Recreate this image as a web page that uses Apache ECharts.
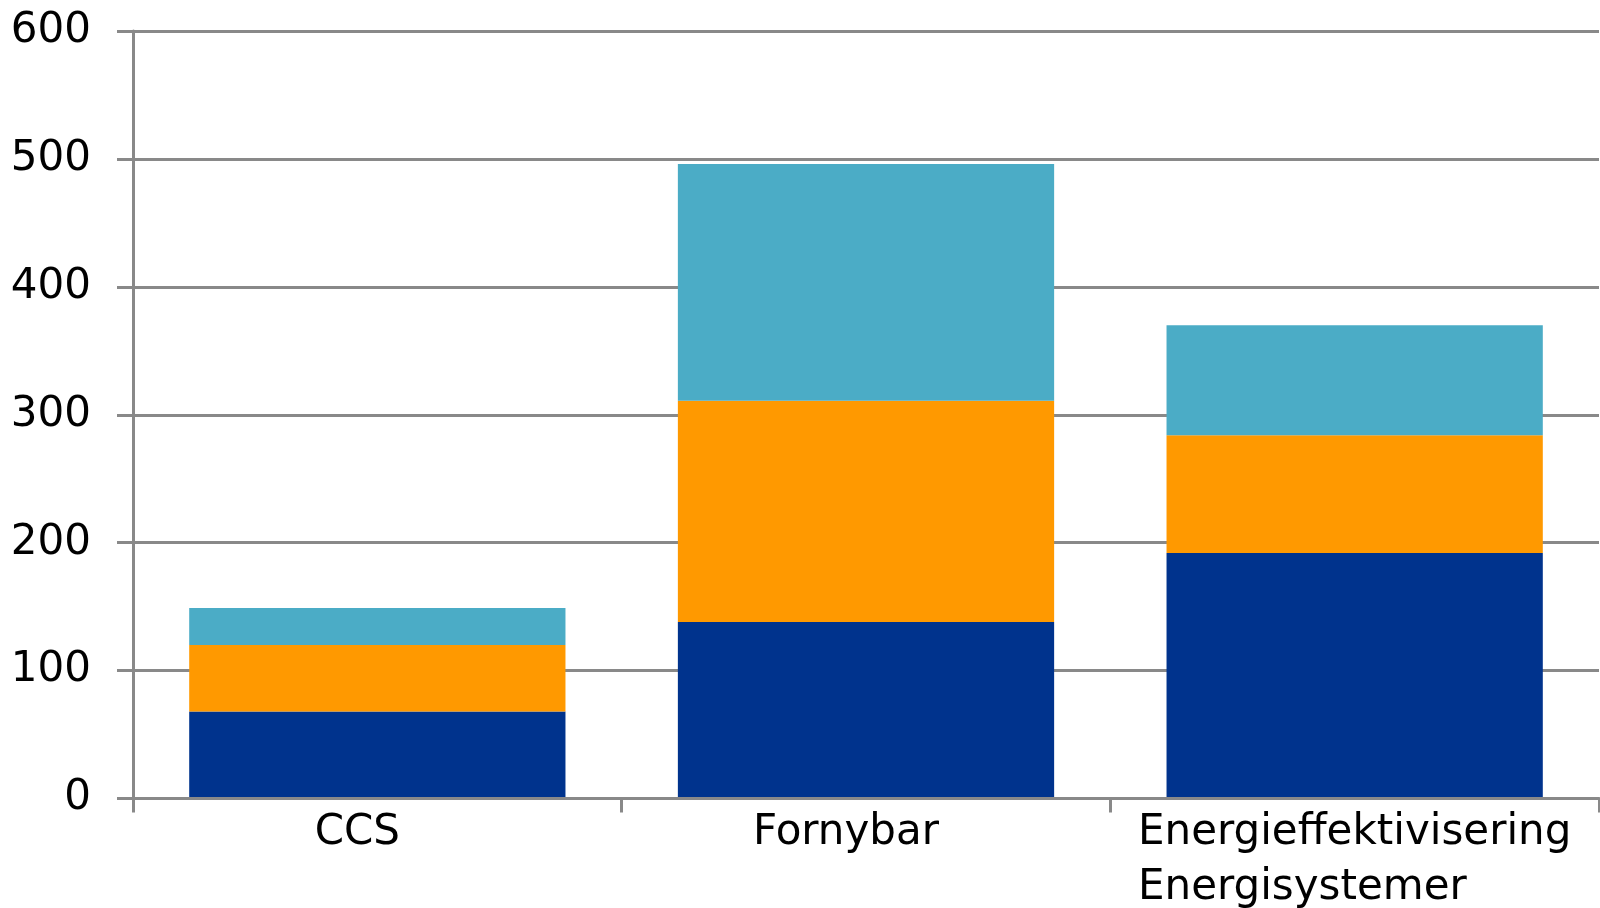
<!DOCTYPE html>
<html>
<head>
<meta charset="utf-8">
<script src="https://cdn.jsdelivr.net/npm/echarts@6/dist/echarts.min.js"></script>
<style>
  html, body { margin: 0; padding: 0; background: #ffffff; }
  #chart { width: 1600px; height: 908px; }
</style>
</head>
<body>
<div id="chart"></div>
<script>
const categories = ['CCS', 'Fornybar', 'Energieffektivisering\nEnergisystemer'];
const seriesNames = ['Serie 1', 'Serie 2', 'Serie 3'];
const bottomValues = [68, 138, 192];
const middleValues = [52, 173, 92];
const topValues = [29, 185, 86];
const yTicks = [0, 100, 200, 300, 400, 500, 600];

const colors = ['#00338D', '#FF9900', '#4BACC6'];
const gray = '#898989';
const font = 'DejaVu Sans';

const chart = echarts.init(document.getElementById('chart'), null, { renderer: 'canvas' });

const mkSeries = (name, data, color) => ({
  name: name,
  type: 'bar',
  stack: 'total',
  data: data,
  barWidth: '77%',
  itemStyle: { color: color },
  emphasis: { disabled: true },
  z: 2
});

chart.setOption({
  animation: false,
  backgroundColor: '#ffffff',
  grid: { left: 133, right: 1, top: 31, bottom: 109.5, containLabel: false, outerBoundsMode: 'none' },
  xAxis: {
    type: 'category',
    data: categories,
    z: 5,
    axisLine: { show: true, lineStyle: { color: gray, width: 3 } },
    axisTick: { show: true, length: 14, lineStyle: { color: gray, width: 3 } },
    splitLine: { show: false },
    axisLabel: {
      margin: 7,
      interval: 0,
      formatter: function (value, index) {
        const lines = value.split('\n');
        if (lines.length > 1) {
          return lines.map(l => '{a|' + l + '}').join('\n');
        }
        return '{b|' + value + '}';
      },
      rich: {
        a: { fontFamily: font, fontSize: 42, color: '#000', lineHeight: 55, align: 'left' },
        b: { fontFamily: font, fontSize: 42, color: '#000', lineHeight: 55, padding: [0, 40, 0, 0] }
      }
    }
  },
  yAxis: {
    type: 'value',
    min: yTicks[0],
    max: yTicks[yTicks.length - 1],
    interval: 100,
    axisLine: { show: true, lineStyle: { color: gray, width: 3 } },
    axisTick: { show: true, length: 16, lineStyle: { color: gray, width: 3 } },
    splitLine: { show: true, lineStyle: { color: gray, width: 3 } },
    axisLabel: { margin: 42, fontFamily: font, fontSize: 42, color: '#000' }
  },
  series: [
    mkSeries(seriesNames[0], bottomValues, colors[0]),
    mkSeries(seriesNames[1], middleValues, colors[1]),
    mkSeries(seriesNames[2], topValues, colors[2])
  ]
});
</script>
</body>
</html>
